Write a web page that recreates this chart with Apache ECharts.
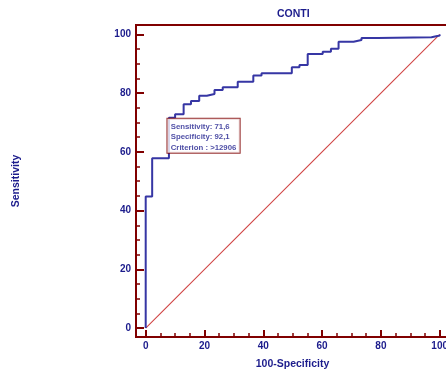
<!DOCTYPE html>
<html>
<head>
<meta charset="utf-8">
<script src="https://cdn.jsdelivr.net/npm/echarts@6/dist/echarts.min.js"></script>
<style>html,body{margin:0;padding:0;background:#fff}#c{width:446px;height:371px}</style>
</head>
<body>
<div id="c"></div>
<script>
// ROC curve corner points (100-Specificity, Sensitivity)
const fpr  = [0, 0, 2.2, 7.9, 10.0, 12.9, 15.4, 18.2, 20.8, 23.4, 26.2, 31.3, 36.6, 39.4, 49.7, 52.3, 55.1, 60.2, 63.0, 65.6, 70.7, 73.4, 78.9, 97.2, 100];
const sens = [0, 44.8, 57.8, 71.6, 72.8, 76.2, 77.3, 79.1, 79.7, 81.1, 82.0, 83.9, 86.0, 86.8, 88.8, 89.6, 93.3, 94.1, 95.1, 97.5, 98.1, 98.8, 99.0, 99.6, 100];
// reference diagonal
const diagX = [0, 100];
const diagY = [0, 100];
// optimal criterion point
const critPoint = [7.9, 71.6];
const critLines = ['Sensitivity: 71,6', 'Specificity: 92,1', 'Criterion : >12906'];
// ticks
const majorTicks = [0, 20, 40, 60, 80, 100];
const minorTicks = [0, 5, 10, 15, 20, 25, 30, 35, 40, 45, 50, 55, 60, 65, 70, 75, 80, 85, 90, 95, 100];

const NAVY = '#1c1c8c';
const RED = '#800000';
const FONT = 'Liberation Sans, Arial, sans-serif';

const chart = echarts.init(document.getElementById('c'), null, {renderer: 'canvas'});
const xMin = -3.3, xMax = 103.16, yMin = -3.03, yMax = 103.2;

chart.setOption({
  animation: false,
  backgroundColor: '#fff',
  title: {
    text: 'CONTI', left: 277, top: 9, padding: 0,
    textStyle: {color: NAVY, fontFamily: FONT, fontWeight: 'bold', fontSize: 10.5}
  },
  grid: {left: 136, top: 25, width: 313, height: 312, show: true, borderColor: RED, borderWidth: 2,
         backgroundColor: 'transparent', containLabel: false, outerBoundsMode: 'none'},
  xAxis: [
    {
      type: 'value', min: xMin, max: xMax, position: 'bottom',
      name: '100-Specificity', nameLocation: 'middle', nameGap: 22,
      nameTextStyle: {color: NAVY, fontFamily: FONT, fontWeight: 'bold', fontSize: 10.5},
      axisLine: {show: true, onZero: false, lineStyle: {color: RED, width: 2}},
      axisTick: {show: true, inside: true, length: 7, lineStyle: {color: RED, width: 2}, customValues: majorTicks},
      axisLabel: {show: true, margin: 4, color: NAVY, fontFamily: FONT, fontWeight: 'bold', fontSize: 10, customValues: majorTicks},
      splitLine: {show: false}
    },
    {
      type: 'value', min: xMin, max: xMax, position: 'bottom', offset: 0,
      axisLine: {show: false, onZero: false},
      axisTick: {show: true, inside: true, length: 4, lineStyle: {color: RED, width: 1.5}, customValues: minorTicks},
      axisLabel: {show: false},
      splitLine: {show: false}
    }
  ],
  yAxis: [
    {
      type: 'value', min: yMin, max: yMax, position: 'left',
      name: 'Sensitivity', nameLocation: 'middle', nameGap: 114,
      nameTextStyle: {color: NAVY, fontFamily: FONT, fontWeight: 'bold', fontSize: 10.5},
      axisLine: {show: true, onZero: false, lineStyle: {color: RED, width: 2}},
      axisTick: {show: true, inside: true, length: 8, lineStyle: {color: RED, width: 2}, customValues: majorTicks},
      axisLabel: {show: true, margin: 5, color: NAVY, fontFamily: FONT, fontWeight: 'bold', fontSize: 10, customValues: majorTicks},
      splitLine: {show: false}
    },
    {
      type: 'value', min: yMin, max: yMax, position: 'left', offset: 0,
      axisLine: {show: false, onZero: false},
      axisTick: {show: true, inside: true, length: 4, lineStyle: {color: RED, width: 1.5}, customValues: minorTicks},
      axisLabel: {show: false},
      splitLine: {show: false}
    }
  ],
  series: [
    {
      type: 'line', xAxisIndex: 0, yAxisIndex: 0,
      data: diagX.map((x, i) => [x, diagY[i]]),
      symbol: 'none', lineStyle: {color: '#d04444', width: 1.1}, z: 2
    },
    {
      type: 'line', xAxisIndex: 0, yAxisIndex: 0, step: 'end',
      data: fpr.map((x, i) => [x, sens[i]]),
      symbol: 'none', lineStyle: {color: '#3636a4', width: 2}, z: 3
    },
    {
      type: 'scatter', xAxisIndex: 0, yAxisIndex: 0,
      data: [critPoint], symbolSize: 1, itemStyle: {color: 'rgba(0,0,0,0)'}, z: 5,
      label: {
        show: true, position: [-1, 1.5], align: 'left', verticalAlign: 'top',
        formatter: () => critLines.join('\n'),
        color: NAVY, fontFamily: FONT, fontWeight: 'bold', fontSize: 7.8, lineHeight: 10.5,
        backgroundColor: '#fff', borderColor: RED, borderWidth: 1, padding: [2.5, 3.3, 0, 3.3]
      }
    }
  ]
});
</script>
</body>
</html>
